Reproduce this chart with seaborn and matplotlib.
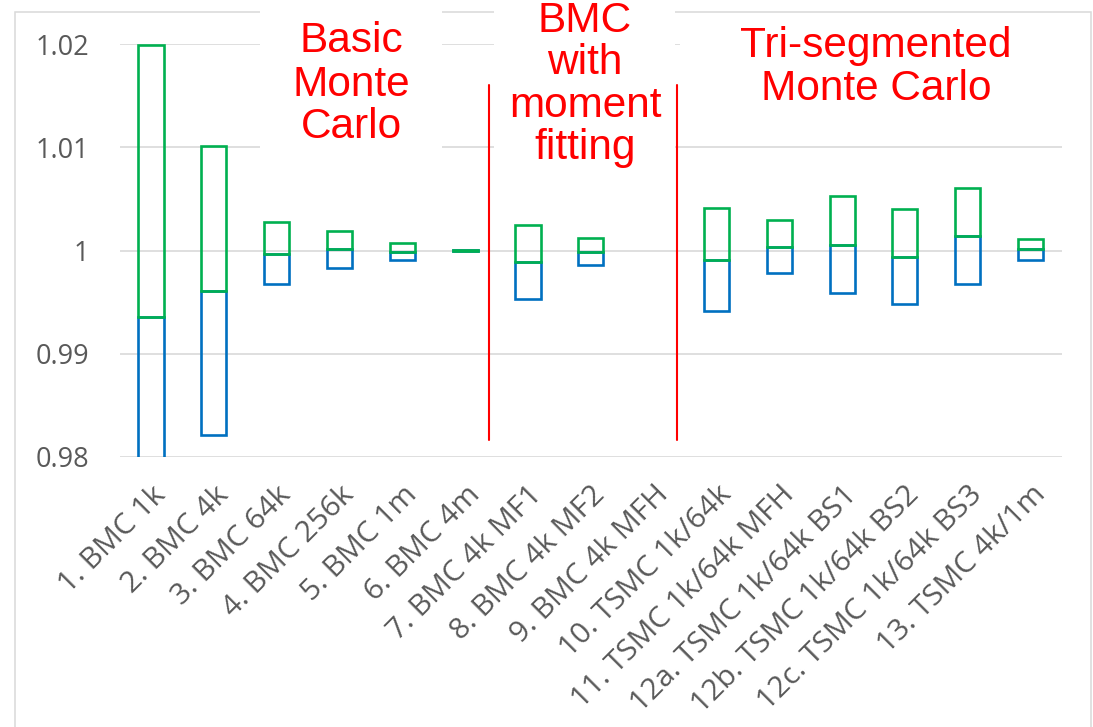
import matplotlib
matplotlib.use("Agg")
import matplotlib.pyplot as plt
import seaborn as sns
import numpy as np
import pandas as pd
from matplotlib.patches import Rectangle

# ---------------- data ----------------
categories = ["1. BMC 1k", "2. BMC 4k", "3. BMC 64k", "4. BMC 256k", "5. BMC 1m",
              "6. BMC 4m", "7. BMC 4k MF1", "8. BMC 4k MF2", "9. BMC 4k MFH",
              "10. TSMC 1k/64k", "11. TSMC 1k/64k MFH", "12a. TSMC 1k/64k BS1",
              "12b. TSMC 1k/64k BS2", "12c. TSMC 1k/64k BS3", "13. TSMC 4k/1m"]
low_values = [0.9790, 0.98211, 0.99672, 0.99833, 0.99911, 0.99997, 0.99530, 0.99859,
              np.nan, 0.99410, 0.99779, 0.99591, 0.99481, 0.99672, 0.99911]
mid_values = [0.99358, 0.99607, 0.99966, 1.00012, 0.99988, 1.00000, 0.99886, 0.99988,
              np.nan, 0.99911, 1.00037, 1.00056, 0.99940, 1.00138, 1.00012]
high_values = [1.01995, 1.01014, 1.00274, 1.00192, 1.00070, 1.00003, 1.00247, 1.00121,
               np.nan, 1.00409, 1.00296, 1.00526, 1.00400, 1.00606, 1.00109]
y_ticks = [0.98, 0.99, 1.00, 1.01, 1.02]
y_tick_labels = ["0.98", "0.99", "1", "1.01", "1.02"]
divider_positions = [5.387, 8.365]
divider_span = (0.98162, 1.01605)
group_labels = [["Basic", "Monte", "Carlo"],
                ["BMC", "with", "moment", "fitting"],
                ["Tri-segmented", "Monte Carlo"]]

# ---------------- styling ----------------
W, H = 1093, 727
BLUE = "#0070C0"
GREEN = "#00B050"
GRID = "#D9D9D9"
TXT = "#595959"

sns.set_theme(style="white")
plt.rcParams["font.family"] = ["Open Sans", "DejaVu Sans"]

fig = plt.figure(figsize=(W / 100, H / 100), dpi=100)
fig.patch.set_facecolor("white")


def fx(px):
    return px / W


def fy(py):
    return 1 - py / H


ax_left, ax_right, ax_top, ax_bottom = 119.6, 1062.0, 44.3, 456.7
ax = fig.add_axes([fx(ax_left), fy(ax_bottom), fx(ax_right - ax_left),
                   (ax_bottom - ax_top) / H])

df = pd.DataFrame({"category": categories, "low": low_values,
                   "mid": mid_values, "high": high_values})
present = df.dropna().copy()
present["lower_h"] = present["mid"] - present["low"]
present["upper_h"] = present["high"] - present["mid"]

sns.barplot(data=present, x="category", y="lower_h", order=categories,
            bottom=present["low"].values, fill=False, color=BLUE, width=0.40,
            linewidth=1.9, errorbar=None, ax=ax, zorder=3)
sns.barplot(data=present, x="category", y="upper_h", order=categories,
            bottom=present["mid"].values, fill=False, color=GREEN, width=0.40,
            linewidth=1.9, errorbar=None, ax=ax, zorder=4)

ax.set_ylim(0.98, 1.02)
ax.set_xlim(-0.5, len(categories) - 0.5)
ax.set_yticks(y_ticks)
ax.set_yticklabels(y_tick_labels)
ax.set_xlabel("")
ax.set_ylabel("")
ax.set_axisbelow(True)
ax.yaxis.grid(True, color=GRID, linewidth=1.2)
ax.xaxis.grid(False)
for s in ax.spines.values():
    s.set_visible(False)
ax.tick_params(axis="y", length=0, pad=22, labelsize=19.5, labelcolor=TXT)
ax.tick_params(axis="x", length=0, pad=17, labelsize=21.5, labelcolor=TXT)
for lab in ax.get_xticklabels():
    lab.set_rotation(45)
    lab.set_ha("right")
    lab.set_va("top")
    lab.set_rotation_mode("anchor")

# red dividers
for xpos in divider_positions:
    ax.plot([xpos, xpos], list(divider_span), color="#FF0000", linewidth=1.5, zorder=5)

# outer chart frame
fig.patches.append(Rectangle((fx(15), -0.05), fx(1091 - 15), fy(12) + 0.05,
                             transform=fig.transFigure, facecolor="none",
                             edgecolor=GRID, linewidth=1.1, zorder=0.5))

# white text boxes
for (x0, y0, x1, y1) in [(260, 0, 442, 155), (494, 0, 675, 170), (680, 15, 1085, 118)]:
    fig.patches.append(Rectangle((fx(x0), fy(y1)), fx(x1 - x0), (y1 - y0) / H,
                                 transform=fig.transFigure, facecolor="white",
                                 edgecolor="none", zorder=1))

# group annotations
centers = [351, 585, 876]
baselines = [[52.3, 95.7, 138.3], [32.3, 74.5, 117.3, 159.3], [57.3, 100.0]]
for lines, cx, bls in zip(group_labels, centers, baselines):
    for line, by in zip(lines, bls):
        fig.text(fx(cx), fy(by), line, ha="center", va="baseline", color="#FF0000",
                 fontsize=30.5, family=["Liberation Sans", "DejaVu Sans"], zorder=6)

fig.savefig("out.png", dpi=100)
